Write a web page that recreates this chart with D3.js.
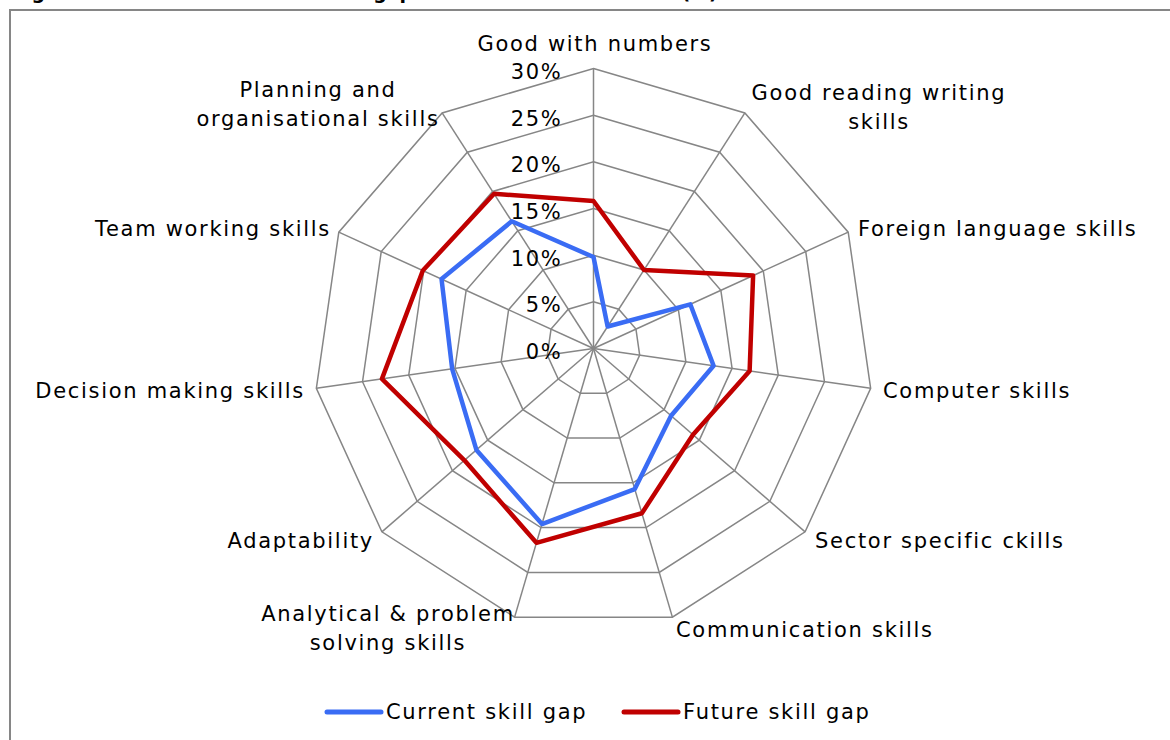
<!DOCTYPE html>
<html>
<head>
<meta charset="utf-8">
<script src="https://cdn.jsdelivr.net/npm/d3@7"></script>
<style>
  html, body { margin: 0; padding: 0; background: #fff; }
  svg { display: block; }
  text { font-family: "DejaVu Sans", Verdana, sans-serif; fill: #000; }
  text.lbl { letter-spacing: 1.7px; }
</style>
</head>
<body>
<svg id="chart" width="1170" height="740"></svg>
<script>
// ---- data ----
const categories = [
  "Good with numbers",
  "Good reading writing skills",
  "Foreign language skills",
  "Computer skills",
  "Sector specific ckills",
  "Communication skills",
  "Analytical & problem solving skills",
  "Adaptability",
  "Decision making skills",
  "Team working skills",
  "Planning and organisational skills"
];
const currentGap = [9.8, 2.8, 11.4, 13.0, 11.0, 15.7, 19.6, 16.6, 15.3, 17.9, 16.2];
const futureGap  = [15.8, 10.0, 18.8, 16.9, 14.1, 18.4, 21.7, 18.3, 22.9, 20.1, 19.7];
const seriesNames = ["Current skill gap", "Future skill gap"];
const tickValues = [0, 5, 10, 15, 20, 25, 30];
const tickLabels = ["0%", "5%", "10%", "15%", "20%", "25%", "30%"];
const titleText = "Figure 4: Current and future skill gap across the whole sector (%)";

// ---- layout ----
const svg = d3.select("#chart");
const cx = 593.5, cy = 348.5;
const r = d3.scaleLinear().domain([0, 30]).range([0, 280]);
const n = categories.length;
const angle = d3.scaleLinear().domain([0, n]).range([0, 2 * Math.PI]);
const pt = (i, v) => [cx + r(v) * Math.sin(angle(i)), cy - r(v) * Math.cos(angle(i))];

const gridColor = "#868686";
const colors = ["#3A6CF4", "#C00000"];
const fs = 21;

// title (mostly above the visible area, as in the reference)
svg.append("text").attr("x", 12).attr("y", -1.5)
  .attr("font-size", 19).attr("font-weight", "bold").text(titleText);

// frame
svg.append("rect").attr("x", 10).attr("y", 10).attr("width", 1200).attr("height", 800)
  .attr("fill", "none").attr("stroke", gridColor).attr("stroke-width", 2);

const g = svg.append("g");

// rings
const ringLine = d3.line();
tickValues.slice(1).forEach(t => {
  const pts = d3.range(n).map(i => pt(i, t));
  g.append("path").attr("d", ringLine(pts) + "Z")
    .attr("fill", "none").attr("stroke", gridColor).attr("stroke-width", 1.5);
});
// spokes
d3.range(n).forEach(i => {
  const [x, y] = pt(i, 30);
  g.append("line").attr("x1", cx).attr("y1", cy).attr("x2", x).attr("y2", y)
    .attr("stroke", gridColor).attr("stroke-width", 1.5);
});

// tick labels
tickValues.forEach((t, k) => {
  g.append("text").attr("class", "lbl").attr("x", cx - 31).attr("y", cy - r(t) + 3)
    .attr("dy", "0.35em").attr("text-anchor", "end").attr("font-size", fs)
    .text(tickLabels[k]);
});

// series
const radarLine = d3.line();
[currentGap, futureGap].forEach((vals, s) => {
  const pts = vals.map((v, i) => pt(i, v));
  g.append("path").attr("d", radarLine(pts) + "Z")
    .attr("fill", "none").attr("stroke", colors[s]).attr("stroke-width", 4.5)
    .attr("stroke-linejoin", "round");
});

// category labels (positions tuned to the reference layout)
const labelSpec = [
  {lines: ["Good with numbers"], x: 595, y: 44, anchor: "middle"},
  {lines: ["Good reading writing", "skills"], x: 879, y: 93, anchor: "middle"},
  {lines: ["Foreign language skills"], x: 858, y: 229, anchor: "start"},
  {lines: ["Computer skills"], x: 883, y: 391, anchor: "start"},
  {lines: ["Sector specific ckills"], x: 815, y: 541, anchor: "start"},
  {lines: ["Communication skills"], x: 676, y: 630, anchor: "start"},
  {lines: ["Analytical & problem", "solving skills"], x: 388, y: 614, anchor: "middle"},
  {lines: ["Adaptability"], x: 374, y: 541, anchor: "end"},
  {lines: ["Decision making skills"], x: 305, y: 391, anchor: "end"},
  {lines: ["Team working skills"], x: 331, y: 229, anchor: "end"},
  {lines: ["Planning and", "organisational skills"], x: 318, y: 90, anchor: "middle"}
];
labelSpec.forEach((L, i) => {
  const t = g.append("text").attr("class", "lbl").attr("text-anchor", L.anchor).attr("font-size", fs);
  L.lines.forEach((ln, j) => {
    t.append("tspan").attr("x", L.x).attr("y", L.y + j * 29).attr("dy", "0.35em").text(ln);
  });
});

// legend
const legend = svg.append("g");
const legendX = [327, 624];
seriesNames.forEach((name, s) => {
  legend.append("line").attr("x1", legendX[s]).attr("x2", legendX[s] + 54)
    .attr("y1", 712).attr("y2", 712)
    .attr("stroke", colors[s]).attr("stroke-width", 5).attr("stroke-linecap", "round");
  legend.append("text").attr("class", "lbl").attr("x", legendX[s] + 59).attr("y", 712).attr("dy", "0.35em")
    .attr("font-size", fs).text(name);
});
</script>
</body>
</html>
